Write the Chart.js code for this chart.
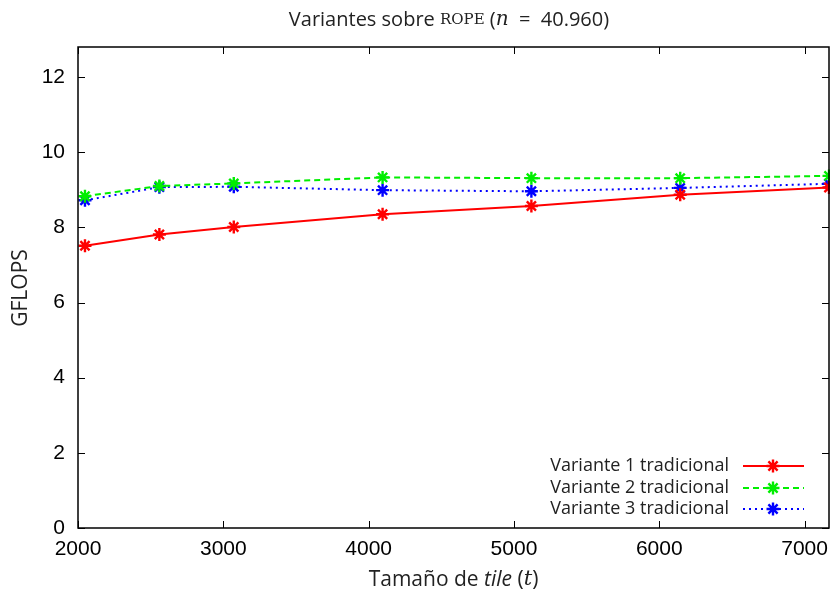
<!DOCTYPE html>
<html>
<head>
<meta charset="utf-8">
<script src="https://cdn.jsdelivr.net/npm/chart.js@4.4.1/dist/chart.umd.min.js"></script>
<style>
  html, body { margin: 0; padding: 0; background: #fff; }
  #wrap { width: 830px; height: 599px; }
</style>
</head>
<body>
<div id="wrap"><canvas id="ropeChart"></canvas></div>
<script>
// tile sizes (x) and GFLOPS for each variant
const tileSizes = [2048, 2560, 3072, 4096, 5120, 6144, 7168];
const variante1 = [7.51, 7.81, 8.01, 8.35, 8.57, 8.87, 9.06];
const variante2 = [8.83, 9.10, 9.17, 9.33, 9.31, 9.31, 9.37];
const variante3 = [8.72, 9.07, 9.08, 8.99, 8.96, 9.05, 9.16];
const seriesNames = ['Variante 1 tradicional', 'Variante 2 tradicional', 'Variante 3 tradicional'];

const xTicks = [2000, 3000, 4000, 5000, 6000, 7000];
const yTicks = [0, 2, 4, 6, 8, 10, 12];

const sansFont = '"Open Sans"';
const tickFont = '"Liberation Sans"';

function points(values) {
    return tileSizes.map((t, i) => ({ x: t, y: values[i] }));
}

function makeDataset(label, values, color, dash) {
    return {
        label: label,
        data: points(values),
        borderColor: color,
        backgroundColor: color,
        borderWidth: 2,
        borderDash: dash,
        pointStyle: 'star',
        pointRadius: 6.5,
        pointBorderWidth: 2.4,
        pointBorderColor: color,
        tension: 0,
        clip: false
    };
}

// draw a line of mixed-style text centred on cx
function drawRich(ctx, parts, cx, cy) {
    let total = 0;
    parts.forEach(p => { ctx.font = p.f; total += ctx.measureText(p.t).width; });
    let x = cx - total / 2;
    ctx.textBaseline = 'middle';
    ctx.textAlign = 'left';
    parts.forEach(p => {
        ctx.font = p.f;
        ctx.fillText(p.t, x, cy + (p.dy || 0));
        x += ctx.measureText(p.t).width;
    });
}

function drawStar(ctx, x, y, r) {
    const d = r * 0.7071;
    ctx.beginPath();
    ctx.moveTo(x - r, y); ctx.lineTo(x + r, y);
    ctx.moveTo(x, y - r); ctx.lineTo(x, y + r);
    ctx.moveTo(x - d, y - d); ctx.lineTo(x + d, y + d);
    ctx.moveTo(x - d, y + d); ctx.lineTo(x + d, y - d);
    ctx.stroke();
}

const framePlugin = {
    id: 'gnuplotFrame',
    afterDraw(chart) {
        const ctx = chart.ctx;
        const a = chart.chartArea;
        const xs = chart.scales.x;
        const ys = chart.scales.y;
        const mid = (a.left + a.right) / 2;
        ctx.save();
        ctx.strokeStyle = '#000';
        ctx.lineWidth = 1.5;
        ctx.setLineDash([]);
        ctx.strokeRect(a.left, a.top, a.right - a.left, a.bottom - a.top);

        // inward ticks, mirrored on top and right
        ctx.lineWidth = 1;
        const tl = 7;
        xTicks.forEach(v => {
            const px = Math.round(xs.getPixelForValue(v)) + 0.5;
            ctx.beginPath();
            ctx.moveTo(px, a.bottom); ctx.lineTo(px, a.bottom - tl);
            ctx.moveTo(px, a.top); ctx.lineTo(px, a.top + tl);
            ctx.stroke();
        });
        yTicks.forEach(v => {
            const py = Math.round(ys.getPixelForValue(v)) + 0.5;
            ctx.beginPath();
            ctx.moveTo(a.left, py); ctx.lineTo(a.left + tl, py);
            ctx.moveTo(a.right, py); ctx.lineTo(a.right - tl, py);
            ctx.stroke();
        });

        ctx.fillStyle = '#222';
        // title
        drawRich(ctx, [
            { t: 'Variantes sobre ', f: '20px ' + sansFont },
            { t: 'ROPE', f: '15px "DejaVu Serif"' },
            { t: ' (', f: '20px ' + sansFont },
            { t: 'n', f: 'italic 20px "DejaVu Serif"' },
            { t: '  =  40.960)', f: '20px ' + sansFont }
        ], 449, 20);

        // x axis title
        drawRich(ctx, [
            { t: 'Tamaño de ', f: '21px ' + sansFont },
            { t: 'tile', f: 'italic 21px ' + sansFont },
            { t: ' (', f: '21px ' + sansFont },
            { t: 't', f: 'italic 21px "DejaVu Serif"' },
            { t: ')', f: '21px ' + sansFont }
        ], mid, 580);

        // y axis title
        ctx.save();
        ctx.translate(21, 288);
        ctx.rotate(-Math.PI / 2);
        drawRich(ctx, [{ t: 'GFLOPS', f: '21px ' + sansFont }], 0, 0);
        ctx.restore();

        // key, bottom right inside the plot
        const rows = [466, 488, 509];
        chart.data.datasets.forEach((ds, i) => {
            const y = rows[i];
            ctx.font = '18px ' + sansFont;
            ctx.textAlign = 'right';
            ctx.textBaseline = 'middle';
            ctx.fillStyle = '#222';
            ctx.fillText(ds.label, 729, y);
            ctx.strokeStyle = ds.borderColor;
            ctx.lineWidth = 2;
            ctx.setLineDash(ds.borderDash || []);
            ctx.beginPath();
            ctx.moveTo(743, y); ctx.lineTo(804, y);
            ctx.stroke();
            ctx.setLineDash([]);
            ctx.lineWidth = 2.4;
            drawStar(ctx, 773, y, 6.5);
        });
        ctx.restore();
    }
};

new Chart(document.getElementById('ropeChart').getContext('2d'), {
    type: 'line',
    data: {
        datasets: [
            makeDataset(seriesNames[0], variante1, '#ff0000', []),
            makeDataset(seriesNames[1], variante2, '#00ee00', [6, 4]),
            makeDataset(seriesNames[2], variante3, '#0000ff', [2, 4])
        ]
    },
    options: {
        responsive: true,
        maintainAspectRatio: false,
        animation: false,
        layout: { autoPadding: false, padding: { top: 47, right: 1, left: 0, bottom: 0 } },
        plugins: {
            legend: { display: false },
            title: { display: false },
            tooltip: { enabled: false }
        },
        scales: {
            x: {
                type: 'linear',
                min: 2000,
                max: 7168,
                grid: { display: false, drawTicks: false },
                border: { display: false },
                afterBuildTicks: scale => { scale.ticks = xTicks.map(v => ({ value: v })); },
                afterFit: scale => {
                    scale.height = 71;
                    scale.paddingLeft = 0;
                    scale.paddingRight = 0;
                },
                ticks: {
                    padding: 9,
                    maxRotation: 0,
                    color: '#000',
                    font: { family: tickFont, size: 21 },
                    callback: v => String(v)
                }
            },
            y: {
                min: 0,
                max: 12.8,
                grid: { display: false, drawTicks: false },
                border: { display: false },
                afterBuildTicks: scale => { scale.ticks = yTicks.map(v => ({ value: v })); },
                afterFit: scale => {
                    scale.width = 78;
                    scale.paddingTop = 0;
                    scale.paddingBottom = 0;
                },
                ticks: {
                    padding: 13,
                    color: '#000',
                    font: { family: tickFont, size: 21 }
                }
            }
        }
    },
    plugins: [framePlugin]
});
</script>
</body>
</html>
